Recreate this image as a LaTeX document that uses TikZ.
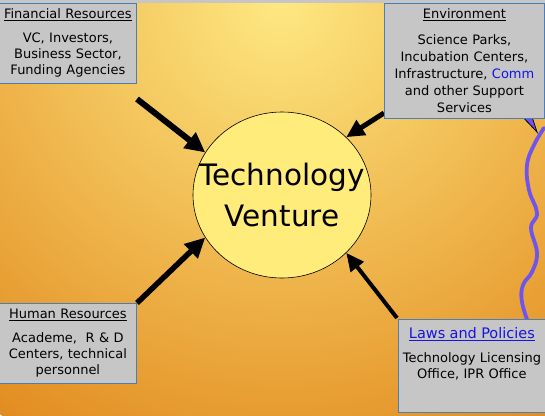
\documentclass[tikz,border=0pt]{standalone}
\usepackage{fontspec}
\setmainfont{DejaVu Sans}
\usetikzlibrary{arrows.meta,shapes.geometric}
\definecolor{bgin}{RGB}{254,232,130}
\definecolor{bgout}{RGB}{226,140,32}
\definecolor{boxgray}{RGB}{198,198,198}
\definecolor{boxedge}{RGB}{74,126,187}
\definecolor{venture}{RGB}{255,236,122}
\definecolor{linkblue}{RGB}{20,20,230}
\definecolor{wavepurple}{RGB}{112,84,238}
\begin{document}
\begin{tikzpicture}[x=1pt,y=-1pt,
  box/.style={draw=boxedge, line width=0.8pt, fill=boxgray, anchor=north west, align=center, inner sep=3pt, font=\fontsize{13}{16}\selectfont},
  feed/.style={draw=black, -{Triangle[length=20pt,width=19pt]}}]
\useasboundingbox (0,0) rectangle (545,415);
\begin{scope}
\clip (0,0) rectangle (545,415);
\shade [inner color=bgin, outer color=bgout] (280,0) circle (500);
\fill [gray!45] (0,0) rectangle (545,2.5);
\end{scope}
\filldraw [fill=wavepurple, draw=black, line width=0.8pt] (518,112) -- (531,114) -- (537,132) -- cycle;
\draw [wavepurple, line width=3.8pt, line cap=round] plot [smooth, tension=0.7] coordinates {(544,128) (534,145) (527,165) (529,190) (537,213) (531,228) (537,253) (532,272) (523,285) (522,302) (529,325)};
\node [ellipse, draw=black, line width=0.6pt, fill=venture, minimum width=178pt, minimum height=166pt, inner sep=0pt] (tv) at (282,195) {};
\node [align=center, font=\fontsize{29.5}{41}\selectfont] (tvtext) at (tv.center) {Technology\\Venture};
\coordinate (finfoot) at (137,99);
\coordinate (envfoot) at (384,113);
\draw [feed, line width=6pt] (finfoot) -- (tv.151);
\draw [feed, line width=5pt, -{Triangle[length=18pt,width=17pt]}] (envfoot) -- (tv.42);
\draw [feed, line width=5.5pt] (137,303) coordinate (humfoot) -- (tv.209);
\draw [feed, line width=4pt, -{Triangle[length=18pt,width=16pt]}] (397,318) coordinate (lawfoot) -- (tv.-42);
\node [box, text width=131pt, minimum height=80pt] (fin) at (-1,3) {\underline{Financial Resources}\\[8pt]VC, Investors,\\Business Sector,\\Funding Agencies};
\node [box, text width=154pt, minimum height=115pt, font=\fontsize{13}{17}\selectfont] (env) at (384,3) {\underline{Environment}\\[9pt]Science Parks,\\Incubation Centers,\\Infrastructure, \textcolor{linkblue}{Comm}\\and other Support\\Services};
\node [box, text width=131pt, minimum height=80pt] (hum) at (-1,303) {\underline{Human Resources}\\[8pt]Academe,\ \ R \& D\\Centers, technical\\personnel};
\node [box, text width=141pt, minimum height=93pt] (law) at (398,319) {{\color{linkblue}\fontsize{14.5}{16}\selectfont\underline{Laws and Policies}}\\[8pt]Technology Licensing\\Office, IPR Office\\[10pt]\mbox{}};
\end{tikzpicture}
\end{document}
